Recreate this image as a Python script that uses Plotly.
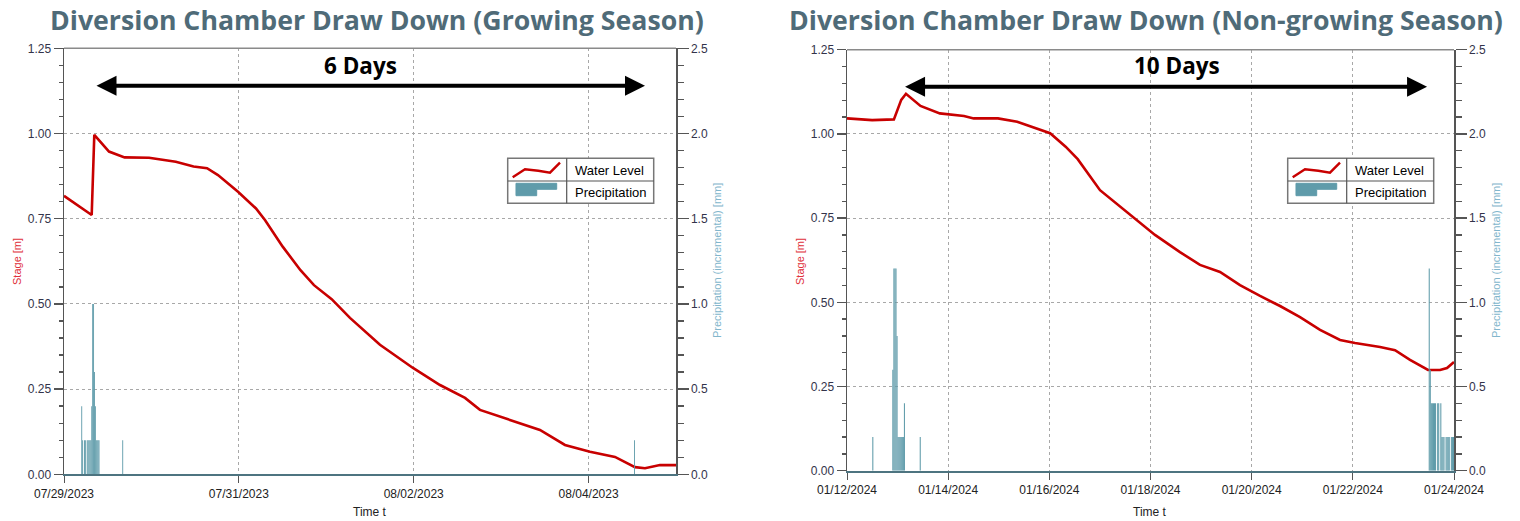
import plotly.graph_objects as go

W, H = 1520, 521

# ---------------- data: growing season (left) ----------------
gs_level_time = [
    "2023-07-29 00:00", "2023-07-29 07:36", "2023-07-29 08:19", "2023-07-29 12:21",
    "2023-07-29 16:38", "2023-07-29 23:20", "2023-07-30 06:41", "2023-07-30 11:34",
    "2023-07-30 15:16", "2023-07-30 18:16", "2023-07-30 23:46", "2023-07-31 04:42",
    "2023-07-31 07:10", "2023-07-31 12:02", "2023-07-31 16:55", "2023-07-31 20:37",
    "2023-08-01 01:29", "2023-08-01 06:30", "2023-08-01 14:44", "2023-08-01 23:48",
    "2023-08-02 07:13", "2023-08-02 14:05", "2023-08-02 18:11", "2023-08-03 02:25",
    "2023-08-03 10:39", "2023-08-03 17:31", "2023-08-04 00:23", "2023-08-04 07:15",
    "2023-08-04 12:44", "2023-08-04 15:29", "2023-08-04 19:36", "2023-08-05 00:00",
]
gs_level = [
    0.817, 0.761, 0.996, 0.947,
    0.930, 0.929, 0.917, 0.903,
    0.898, 0.878, 0.829, 0.780,
    0.746, 0.668, 0.599, 0.555,
    0.514, 0.459, 0.380, 0.312,
    0.262, 0.224, 0.189, 0.160,
    0.130, 0.086, 0.066, 0.051,
    0.021, 0.018, 0.027, 0.027,
]
gs_precip_time = [
    "2023-07-29 04:52", "2023-07-29 05:07", "2023-07-29 05:37", "2023-07-29 05:52",
    "2023-07-29 06:22", "2023-07-29 06:37", "2023-07-29 06:52", "2023-07-29 07:07",
    "2023-07-29 07:22", "2023-07-29 07:37", "2023-07-29 07:52", "2023-07-29 08:07",
    "2023-07-29 08:22", "2023-07-29 08:37", "2023-07-29 08:52", "2023-07-29 09:07",
    "2023-07-29 09:22", "2023-07-29 09:37", "2023-07-29 16:07", "2023-08-04 12:37",
]
gs_precip = [
    0.4, 0.2, 0.2, 0.2,
    0.2, 0.2, 0.2, 0.2,
    0.2, 0.4, 1.0, 1.0,
    0.6, 0.4, 0.2, 0.2,
    0.2, 0.2, 0.2, 0.2,
]

# ---------------- data: non-growing season (right) ----------------
ngs_level_time = [
    "2024-01-12 00:00", "2024-01-12 11:56", "2024-01-12 22:15", "2024-01-13 01:44",
    "2024-01-13 03:59", "2024-01-13 10:52", "2024-01-13 20:02", "2024-01-14 07:30",
    "2024-01-14 12:07", "2024-01-14 23:36", "2024-01-15 08:45", "2024-01-16 00:23",
    "2024-01-16 07:44", "2024-01-16 13:28", "2024-01-17 00:03", "2024-01-17 14:17",
    "2024-01-18 02:08", "2024-01-18 13:59", "2024-01-18 23:29", "2024-01-19 08:59",
    "2024-01-19 18:28", "2024-01-20 03:58", "2024-01-20 13:28", "2024-01-20 22:57",
    "2024-01-21 08:27", "2024-01-21 17:56", "2024-01-22 01:03", "2024-01-22 12:55",
    "2024-01-22 20:01", "2024-01-23 03:08", "2024-01-23 11:41", "2024-01-23 17:23",
    "2024-01-23 20:41", "2024-01-24 00:00",
]
ngs_level = [
    1.046, 1.041, 1.043, 1.101,
    1.119, 1.083, 1.061, 1.053,
    1.046, 1.046, 1.036, 1.002,
    0.962, 0.925, 0.833, 0.759,
    0.700, 0.649, 0.611, 0.590,
    0.551, 0.519, 0.489, 0.456,
    0.418, 0.388, 0.379, 0.367,
    0.358, 0.329, 0.299, 0.299,
    0.305, 0.323,
]
ngs_precip_time = [
    "2024-01-12 12:15", "2024-01-12 21:45", "2024-01-12 22:15", "2024-01-12 22:45",
    "2024-01-12 23:15", "2024-01-12 23:45", "2024-01-13 00:15", "2024-01-13 00:45",
    "2024-01-13 01:15", "2024-01-13 01:45", "2024-01-13 02:15", "2024-01-13 02:45",
    "2024-01-13 03:15", "2024-01-13 10:45",
    "2024-01-23 12:15", "2024-01-23 12:45", "2024-01-23 13:15", "2024-01-23 13:45",
    "2024-01-23 14:15", "2024-01-23 14:45", "2024-01-23 15:15", "2024-01-23 16:15",
    "2024-01-23 16:45", "2024-01-23 17:45", "2024-01-23 18:15", "2024-01-23 18:45",
    "2024-01-23 19:15", "2024-01-23 20:15", "2024-01-23 20:45", "2024-01-23 21:15",
    "2024-01-23 21:45", "2024-01-23 22:45", "2024-01-23 23:15", "2024-01-23 23:45",
]
ngs_precip = [
    0.2, 0.6, 1.2, 1.2,
    1.2, 0.8, 0.2, 0.2,
    0.2, 0.2, 0.2, 0.2,
    0.4, 0.2,
    1.2, 0.6, 0.4, 0.4,
    0.4, 0.4, 0.4, 0.4,
    0.4, 0.4, 0.2, 0.2,
    0.2, 0.2, 0.2, 0.2,
    0.2, 0.2, 0.2, 0.2,
]

titles = ["Diversion Chamber Draw Down (Growing Season)",
          "Diversion Chamber Draw Down (Non-growing Season)"]
span_labels = ["6 Days", "10 Days"]
gs_span = ["2023-07-29 08:31", "2023-08-04 15:29"]
ngs_span = ["2024-01-13 02:51", "2024-01-23 11:13"]
gs_range = ["2023-07-29 00:00", "2023-08-05 00:00"]
ngs_range = ["2024-01-12 00:00", "2024-01-24 00:00"]

# ---------------- styling ----------------
RED = "#c80000"
TEAL = "#5f9baa"
GRID = "#a8a8a8"
TICKC = "#33334a"
FONT = "Liberation Sans, Arial, sans-serif"


def px(x):
    return x / W


def py(y):
    return 1 - y / H


fig = go.Figure()

fig.add_trace(go.Scatter(x=gs_level_time, y=gs_level, mode="lines",
                         line=dict(color=RED, width=2.6), xaxis="x", yaxis="y",
                         name="Water Level"))
fig.add_trace(go.Bar(x=gs_precip_time, y=gs_precip, width=15 * 60 * 1000,
                     marker=dict(color=TEAL, line=dict(width=0)),
                     xaxis="x", yaxis="y2", name="Precipitation"))
fig.add_trace(go.Scatter(x=ngs_level_time, y=ngs_level, mode="lines",
                         line=dict(color=RED, width=2.6), xaxis="x2", yaxis="y3",
                         name="Water Level"))
fig.add_trace(go.Bar(x=ngs_precip_time, y=ngs_precip, width=30 * 60 * 1000,
                     marker=dict(color=TEAL, line=dict(width=0)),
                     xaxis="x2", yaxis="y4", name="Precipitation"))

panels = [
    dict(x0=64, x1=676, y0=48.3, y1=474.3),
    dict(x0=847, x1=1454, y0=49.7, y1=470.7),
]


def xaxis_cfg(p, rng, anchor):
    return dict(
        domain=[px(p["x0"]), px(p["x1"])], range=rng, type="date", anchor=anchor,
        tickformat="%m/%d/%Y", dtick=2 * 86400000, tick0=rng[0],
        ticks="outside", ticklen=7, tickwidth=1, tickcolor="#555",
        showline=True, linecolor="#4d7480", linewidth=2,
        showgrid=True, gridcolor=GRID, griddash="3px,3px", gridwidth=1,
        tickfont=dict(size=12, color="#222", family=FONT), zeroline=False,
    )


def ystage_cfg(p, anchor):
    return dict(
        domain=[py(p["y1"]), py(p["y0"])], range=[0, 1.25], dtick=0.25,
        tickformat=".2f", ticks="outside", ticklen=9, tickwidth=1.3, tickcolor="#555",
        minor=dict(dtick=0.05, ticks="outside", ticklen=4, tickcolor="#555", showgrid=False),
        showline=True, linecolor="#555", linewidth=1.5, anchor=anchor,
        showgrid=True, gridcolor=GRID, griddash="3px,3px", gridwidth=1,
        tickfont=dict(size=12, color=TICKC, family=FONT), zeroline=False,
    )


def yprecip_cfg(over, anchor):
    return dict(
        overlaying=over, side="right", anchor=anchor, range=[0, 2.5], dtick=0.5,
        tickformat=".1f", ticks="outside", ticklen=11, tickwidth=1.3, tickcolor="#555",
        minor=dict(dtick=0.1, ticks="outside", ticklen=6, tickcolor="#555", showgrid=False),
        showline=True, linecolor="#555", linewidth=1.5, showgrid=False,
        tickfont=dict(size=12, color=TICKC, family=FONT), zeroline=False,
    )


fig.update_layout(
    width=W, height=H, margin=dict(l=0, r=0, t=0, b=0, autoexpand=False),
    paper_bgcolor="white", plot_bgcolor="white", showlegend=False,
    font=dict(family=FONT, size=12, color="#222"),
    xaxis=xaxis_cfg(panels[0], gs_range, "y"),
    yaxis=ystage_cfg(panels[0], "x"),
    yaxis2=yprecip_cfg("y", "x"),
    xaxis2=xaxis_cfg(panels[1], ngs_range, "y3"),
    yaxis3=ystage_cfg(panels[1], "x2"),
    yaxis4=yprecip_cfg("y3", "x2"),
)

shapes = []
annotations = []

for xa, ya in (("x", "y"), ("x2", "y3")):
    shapes.append(dict(type="line", xref=f"{xa} domain", yref=f"{ya} domain",
                       x0=0, x1=1, y0=1, y1=1, line=dict(color="#8a8a8a", width=1.5),
                       layer="above"))

title_cx = [377, 1146]
span_cx = [360, 1177]
spans = [gs_span, ngs_span]
xrefs = ["x", "x2"]
yrefs = ["y", "y3"]
for i in range(2):
    annotations.append(dict(text=f"<b>{titles[i]}</b>", xref="paper", yref="paper",
                            x=px(title_cx[i]), y=py(20), showarrow=False,
                            xanchor="center", yanchor="middle",
                            font=dict(family="Open Sans, Noto Sans, sans-serif", size=26.7,
                                      color="#4f6b78")))
    annotations.append(dict(text=f"<b>{span_labels[i]}</b>", xref="paper", yref="paper",
                            x=px(span_cx[i]), y=py(65), showarrow=False,
                            xanchor="center", yanchor="middle",
                            font=dict(family="Open Sans, Noto Sans, sans-serif", size=22.5,
                                      color="black")))
    annotations.append(dict(text="", x=spans[i][1], y=1.14, ax=spans[i][0], ay=1.14,
                            xref=xrefs[i], yref=yrefs[i], axref=xrefs[i], ayref=yrefs[i],
                            showarrow=True, arrowhead=2, startarrowhead=2,
                            arrowside="end+start", arrowsize=1, startarrowsize=1,
                            arrowwidth=4, arrowcolor="black"))

stage_x = [17, 800]
prec_x = [717, 1496]
time_x = [370, 1150]
for i in range(2):
    annotations.append(dict(text="Stage [m]", xref="paper", yref="paper",
                            x=px(stage_x[i]), y=py(262), textangle=-90, showarrow=False,
                            xanchor="center", yanchor="middle",
                            font=dict(family=FONT, size=11, color="#e0303a")))
    annotations.append(dict(text="Precipitation (incremental) [mm]", xref="paper", yref="paper",
                            x=px(prec_x[i]), y=py(261), textangle=-90, showarrow=False,
                            xanchor="center", yanchor="middle",
                            font=dict(family=FONT, size=11, color="#82b6cc")))
    annotations.append(dict(text="Time t", xref="paper", yref="paper",
                            x=px(time_x[i]), y=py(512), showarrow=False,
                            xanchor="center", yanchor="middle",
                            font=dict(family=FONT, size=12, color="#222")))

legend_origin = [(507.7, 158.3), (1287.7, 158.3)]
for (lx, ly) in legend_origin:
    bw, bh, col, row = 146, 45, 59, 22.7
    shapes.append(dict(type="rect", xref="paper", yref="paper",
                       x0=px(lx), x1=px(lx + bw), y0=py(ly), y1=py(ly + bh),
                       line=dict(color="#777", width=1.5), fillcolor="white", layer="above"))
    shapes.append(dict(type="line", xref="paper", yref="paper",
                       x0=px(lx + col), x1=px(lx + col), y0=py(ly), y1=py(ly + bh),
                       line=dict(color="#555", width=1.2), layer="above"))
    shapes.append(dict(type="line", xref="paper", yref="paper",
                       x0=px(lx), x1=px(lx + bw), y0=py(ly + row), y1=py(ly + row),
                       line=dict(color="#555", width=1.2), layer="above"))
    zig = [(5, 19), (17.3, 11), (30.6, 12.4), (42.3, 14.4), (52.3, 4.4)]
    path = "M " + " L ".join(f"{px(lx + a):.5f},{py(ly + b):.5f}" for a, b in zig)
    shapes.append(dict(type="path", xref="paper", yref="paper", path=path,
                       line=dict(color=RED, width=2.4), layer="above"))
    step = [(8.3, 25), (49, 25), (49, 31), (29, 31), (29, 37.4), (8.3, 37.4)]
    path2 = "M " + " L ".join(f"{px(lx + a):.5f},{py(ly + b):.5f}" for a, b in step) + " Z"
    shapes.append(dict(type="path", xref="paper", yref="paper", path=path2,
                       line=dict(color=TEAL, width=1), fillcolor=TEAL, layer="above"))
    annotations.append(dict(text="Water Level", xref="paper", yref="paper",
                            x=px(lx + 65), y=py(ly + 12), showarrow=False,
                            xanchor="left", yanchor="middle",
                            font=dict(family=FONT, size=13, color="black")))
    annotations.append(dict(text="Precipitation", xref="paper", yref="paper",
                            x=px(lx + 65), y=py(ly + 34.4), showarrow=False,
                            xanchor="left", yanchor="middle",
                            font=dict(family=FONT, size=13, color="black")))

fig.update_layout(shapes=shapes, annotations=annotations)
fig.write_html("out.html", config={"displayModeBar": False, "staticPlot": True},
               post_script="document.body.style.margin='0';document.body.style.overflow='hidden';")
